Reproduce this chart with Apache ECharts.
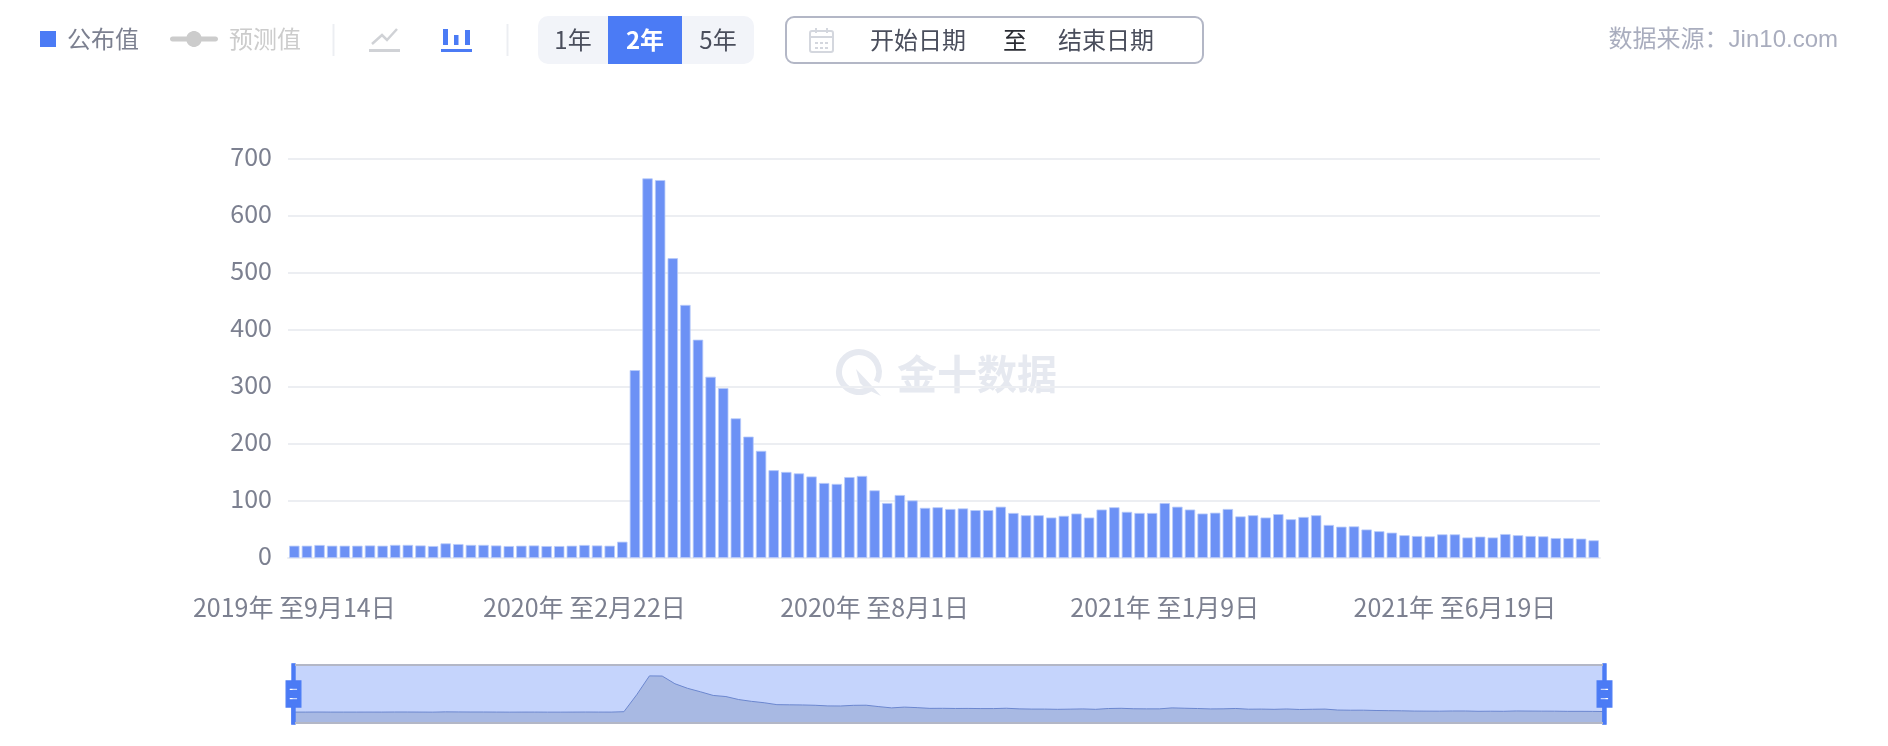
<!DOCTYPE html>
<html><head><meta charset="utf-8">
<style>html,body{margin:0;padding:0;background:#fff}#c{width:1888px;height:746px}</style>
<script src="https://cdn.jsdelivr.net/npm/echarts@6/dist/echarts.min.js"></script>
</head><body><div id="c"></div>
<script>
const FONT = '"Noto Sans CJK SC","Noto Sans",sans-serif';
const categories = [
'2019年 至9月14日','2019年 至9月21日','2019年 至9月28日','2019年 至10月5日','2019年 至10月12日','2019年 至10月19日','2019年 至10月26日',
'2019年 至11月2日','2019年 至11月9日','2019年 至11月16日','2019年 至11月23日','2019年 至11月30日','2019年 至12月7日','2019年 至12月14日','2019年 至12月21日','2019年 至12月28日',
'2020年 至1月4日','2020年 至1月11日','2020年 至1月18日','2020年 至1月25日','2020年 至2月1日','2020年 至2月8日','2020年 至2月15日','2020年 至2月22日','2020年 至2月29日',
'2020年 至3月7日','2020年 至3月14日','2020年 至3月21日','2020年 至3月28日','2020年 至4月4日','2020年 至4月11日','2020年 至4月18日','2020年 至4月25日',
'2020年 至5月2日','2020年 至5月9日','2020年 至5月16日','2020年 至5月23日','2020年 至5月30日','2020年 至6月6日','2020年 至6月13日','2020年 至6月20日','2020年 至6月27日',
'2020年 至7月4日','2020年 至7月11日','2020年 至7月18日','2020年 至7月25日','2020年 至8月1日','2020年 至8月8日','2020年 至8月15日','2020年 至8月22日','2020年 至8月29日',
'2020年 至9月5日','2020年 至9月12日','2020年 至9月19日','2020年 至9月26日','2020年 至10月3日','2020年 至10月10日','2020年 至10月17日','2020年 至10月24日','2020年 至10月31日',
'2020年 至11月7日','2020年 至11月14日','2020年 至11月21日','2020年 至11月28日','2020年 至12月5日','2020年 至12月12日','2020年 至12月19日','2020年 至12月26日',
'2021年 至1月2日','2021年 至1月9日','2021年 至1月16日','2021年 至1月23日','2021年 至1月30日','2021年 至2月6日','2021年 至2月13日','2021年 至2月20日','2021年 至2月27日',
'2021年 至3月6日','2021年 至3月13日','2021年 至3月20日','2021年 至3月27日','2021年 至4月3日','2021年 至4月10日','2021年 至4月17日','2021年 至4月24日',
'2021年 至5月1日','2021年 至5月8日','2021年 至5月15日','2021年 至5月22日','2021年 至5月29日','2021年 至6月5日','2021年 至6月12日','2021年 至6月19日','2021年 至6月26日',
'2021年 至7月3日','2021年 至7月10日','2021年 至7月17日','2021年 至7月24日','2021年 至7月31日','2021年 至8月7日','2021年 至8月14日','2021年 至8月21日','2021年 至8月28日','2021年 至9月4日'];
const published = [
21.6,21.6,22.8,21.6,21.6,21.6,22,21.6,23,23,22,21,25.7,24.5,23,23,22,21,21.6,22,21,21,21.6,22.8,22,21.6,28.6,329.6,
666,663,526,444,383,318,298,245,213,188,154,151,148.5,143,131.6,130,142,144,118.7,96.5,110.5,101,88,89,86,87,84,84,90,79,75,75,71,74,78,71,85,89,81,79,
79,96.5,90,85,78,79.5,86,73,75,71,77,68,72,75,58,55,55.5,50,47,44.5,40,38.6,38,41.5,41.5,36,37.5,36,42,40,38.6,38,35,35,34,31];
const forecast = [];
const yTicks = {min:0,max:700,interval:100};
const rangeButtons = ['1年','2年','5年'];
const GREY='#7c8090', LIGHT='#a9adbe', BLUE='#4b7bf5';

function rect(x,y,w,h,fill,r,z){return {type:'rect',shape:{x,y,width:w,height:h,r:r||0},style:{fill},z:z||5,silent:true};}
function txt(x,y,t,fill,opts){return Object.assign({type:'text',x,y,z:6,silent:true,style:Object.assign({text:t,fill,font:'24px '+FONT,textVerticalAlign:'middle',verticalAlign:'middle',textAlign:'left'},opts||{})});}

const graphics = [
  rect(332.5,24,2,32,'#eceef2'),
  rect(506.5,24,2,32,'#eceef2'),
  {type:'polyline',z:5,silent:true,shape:{points:[[372,44],[382,35],[387,40],[397,29]]},style:{stroke:'#d0d2d6',lineWidth:2.5,fill:null}},
  rect(369,49,31,3,'#d0d2d6'),
  rect(443,29,5,16,BLUE), rect(454,35,4.5,10,BLUE), rect(465,30,5,15,BLUE), rect(441,49,31,3,BLUE),
  rect(538,16,216,48,'#f2f4f9',10),
  rect(608,16,74,48,BLUE),
  txt(573,40,rangeButtons[0],'#4a4e5c',{textAlign:'center'}),
  txt(645,40,rangeButtons[1],'#ffffff',{textAlign:'center',font:'bold 24px '+FONT}),
  txt(718,40,rangeButtons[2],'#4a4e5c',{textAlign:'center'}),
  {type:'rect',z:5,silent:true,shape:{x:786,y:17,width:417,height:46,r:8},style:{fill:'#fff',stroke:'#b3b7c6',lineWidth:2}},
  {type:'rect',z:6,silent:true,shape:{x:810,y:31,width:23,height:21,r:2},style:{fill:'#fff',stroke:'#d4d7de',lineWidth:2}},
  rect(810,36,23,2,'#d4d7de',0,6), rect(815,28,2,5,'#d4d7de',0,6), rect(826,28,2,5,'#d4d7de',0,6),
  rect(815,42,3,2,'#d4d7de',0,6), rect(820,42,3,2,'#d4d7de',0,6), rect(825,42,3,2,'#d4d7de',0,6),
  rect(815,47,3,2,'#d4d7de',0,6), rect(820,47,3,2,'#d4d7de',0,6), rect(825,47,3,2,'#d4d7de',0,6),
  txt(870,40,'开始日期','#4a4e5c'),
  txt(1003,40,'至','#2a2c33'),
  txt(1058,40,'结束日期','#4a4e5c'),
  txt(1838,40,'数据来源：Jin10.com',LIGHT,{textAlign:'right',font:'24px "Liberation Sans","Noto Sans CJK SC",sans-serif'}),
  {type:'arc',z:-1,silent:true,shape:{cx:859,cy:372,r:20,startAngle:Math.PI*0.32,endAngle:Math.PI*2.16},style:{stroke:'#e6e9f0',lineWidth:6,fill:null}},
  {type:'polygon',z:-1,silent:true,shape:{points:[[856,369],[872,386],[881,396],[866,389],[860,383]]},style:{fill:'#e6e9f0'}},
  {type:'text',z:-1,silent:true,x:897,y:374,style:{text:'金十数据',fill:'#e6e9f0',font:'bold 40px '+FONT,textAlign:'left',textVerticalAlign:'middle',verticalAlign:'middle'}},
  rect(295,664,1308,2,'#b3b7c6',0,10),
  rect(295,722,1308,2,'#b3b7c6',0,10)
];

const linePath='path://M2.5,5.5 H16.6 C17.7,2.3 20.6,0 24,0 C27.4,0 30.3,2.3 31.4,5.5 H45.5 C47,5.5 48,6.6 48,8 C48,9.4 47,10.5 45.5,10.5 H31.4 C30.3,13.7 27.4,16 24,16 C20.6,16 17.7,13.7 16.6,10.5 H2.5 C1,10.5 0,9.4 0,8 C0,6.6 1,5.5 2.5,5.5 Z';

const option = {
  animation:false,
  textStyle:{fontFamily:FONT},
  legend:[
    {left:40,top:27,itemWidth:16,itemHeight:16,icon:'rect',data:['公布值'],selectedMode:false,
     itemStyle:{color:BLUE,borderWidth:0},textStyle:{fontSize:24,color:GREY,fontFamily:FONT,padding:[0,0,0,6]},padding:0},
    {left:170,top:27,itemWidth:48,itemHeight:16,data:[{name:'预测值',icon:linePath}],selected:{'预测值':false},
     inactiveColor:'#cccccc',textStyle:{fontSize:24,color:LIGHT,fontFamily:FONT,padding:[0,0,0,6]},padding:0}
  ],
  grid:{left:288,right:288,top:159,bottom:188,containLabel:false},
  xAxis:{type:'category',data:categories,boundaryGap:true,
    axisLine:{lineStyle:{color:'#eceef2',width:2}},axisTick:{show:false},
    axisLabel:{interval:22,color:GREY,fontSize:25,fontFamily:FONT,margin:37,hideOverlap:false}},
  yAxis:{type:'value',min:yTicks.min,max:yTicks.max,interval:yTicks.interval,
    axisLine:{show:false},axisTick:{show:false},
    axisLabel:{margin:16,formatter:'{v|{value}}',
      rich:{v:{color:GREY,fontSize:25,fontFamily:FONT,padding:[0,0,5,0]}}},
    splitLine:{lineStyle:{color:'#eceef2',width:2}}},
  dataZoom:[{type:'slider',xAxisIndex:0,start:0,end:100,left:290,right:285,top:665,height:58,
    showDetail:false,brushSelect:false,moveHandleSize:0,
    borderColor:'transparent',borderRadius:0,backgroundColor:'transparent',
    fillerColor:'rgba(75,122,245,0.32)',
    handleIcon:'path://M8.2,13.6V3.9H6.3v9.7H3.1v14.9h3.3v9.7h1.8v-9.7h3.3V13.6H8.2z M9.7,24.4H4.8v-1.4h4.9V24.4z M9.7,19.1H4.8v-1.4h4.9V19.1z',
    handleSize:'104%',handleStyle:{color:BLUE,borderColor:BLUE,borderWidth:1.2},
    dataBackground:{lineStyle:{color:'#7b8dbd',width:1,opacity:1},areaStyle:{color:'#d5d8da',opacity:1}},
    selectedDataBackground:{lineStyle:{color:'#7b8dbd',width:1,opacity:1},areaStyle:{color:'#d5d8da',opacity:1}}
  }],
  graphic:{elements:graphics},
  series:[
    {name:'公布值',type:'bar',data:published,barWidth:10.4,
     itemStyle:{color:'#6c91f5',borderColor:'#b9cbfa',borderWidth:0.8},z:2},
    {name:'预测值',type:'line',data:forecast,itemStyle:{color:'#ccc'},lineStyle:{color:'#ccc'}}
  ]
};
const chart = echarts.init(document.getElementById('c'),null,{renderer:'canvas'});
chart.setOption(option);
</script></body></html>
